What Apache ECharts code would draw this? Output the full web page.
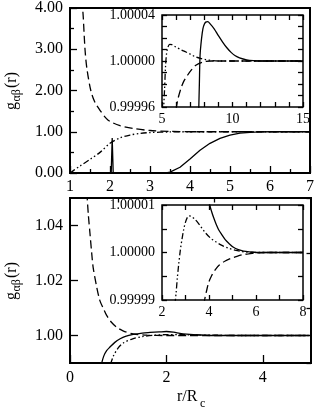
<!DOCTYPE html>
<html>
<head>
<meta charset="utf-8">
<script src="https://cdn.jsdelivr.net/npm/echarts@6/dist/echarts.min.js"></script>
<style>
html,body{margin:0;padding:0;background:#fff;}
#c{width:317px;height:411px;}
</style>
</head>
<body>
<div id="c"></div>
<script>
// ---------- DATA ----------
// Top main panel (x: r/Rc 1..7, y: g 0..4)
const topSolidX = [1.0, 2.03, 2.055, 2.08, 3.4, 3.5, 3.75, 4.0, 4.25, 4.5, 4.75, 5.0, 5.25, 5.5, 5.75, 6.0, 7.0];
const topSolidY = [0.0, 0.0, 0.85, 0.0, 0.0, 0.02, 0.14, 0.34, 0.55, 0.72, 0.84, 0.92, 0.965, 0.985, 0.995, 1.0, 1.0];
const topDashX = [1.30, 1.33, 1.375, 1.42, 1.52, 1.62, 1.75, 1.90, 2.00, 2.25, 2.58, 3.00, 3.50, 4.00, 7.00];
const topDashY = [4.2, 3.8, 3.0, 2.55, 2.0, 1.72, 1.52, 1.33, 1.25, 1.15, 1.08, 1.03, 1.01, 1.0, 1.0];
const topDotX = [1.0, 1.1, 1.25, 1.5, 1.75, 2.0, 2.25, 2.5, 2.75, 3.0, 3.5, 4.0, 7.0];
const topDotY = [0.0, 0.07, 0.17, 0.33, 0.5, 0.72, 0.85, 0.92, 0.96, 0.98, 0.995, 1.0, 1.0];

// Top inset (x: 5..15, y: 0.99996..1.00004)
const tinSolidX = [7.60, 7.65, 7.70, 7.80, 7.90, 8.00, 8.10, 8.25, 8.40, 8.70, 9.00, 9.30, 9.60, 9.90, 10.2, 10.5, 11.0, 11.5, 12.0, 15.0];
const tinSolidY = [0.999955, 0.99998, 1.000005, 1.000019, 1.000028, 1.000032, 1.0000338, 1.0000342, 1.0000325, 1.000028, 1.000022, 1.0000165, 1.0000115, 1.0000075, 1.0000045, 1.0000027, 1.000001, 1.0000003, 1.0, 1.0];
const tinDashX = [6.00, 6.05, 6.15, 6.34, 6.55, 6.81, 7.10, 7.40, 7.90, 8.50, 15.0];
const tinDashY = [0.999958, 0.999962, 0.999968, 0.999976, 0.9999825, 0.9999876, 0.9999925, 0.9999963, 0.9999991, 1.0, 1.0];
const tinDotX = [5.10, 5.18, 5.25, 5.32, 5.42, 5.55, 5.70, 6.00, 6.40, 6.70, 7.00, 7.40, 7.80, 8.10, 8.60, 9.00, 15.0];
const tinDotY = [0.999955, 0.999975, 0.999995, 1.000006, 1.000012, 1.0000145, 1.0000142, 1.000012, 1.0000095, 1.0000078, 1.000006, 1.0000035, 1.000002, 1.0000012, 1.0000003, 1.0, 1.0];

// Bottom main panel (x: 0..5, y: 0.99..1.05)
const botSolidX = [0.65, 0.70, 0.76, 0.83, 0.93, 1.04, 1.15, 1.31, 1.50, 1.66, 1.85, 2.00, 2.15, 2.28, 2.42, 2.56, 2.80, 3.00, 5.00];
const botSolidY = [0.9895, 0.9925, 0.9945, 0.9958, 0.9975, 0.9988, 0.9997, 1.0004, 1.0009, 1.0011, 1.0013, 1.00145, 1.0012, 1.0008, 1.0005, 1.0003, 1.0001, 1.0, 1.0];
const botDashX = [0.35, 0.38, 0.415, 0.45, 0.48, 0.55, 0.62, 0.70, 0.76, 0.85, 0.97, 1.10, 1.31, 1.60, 2.00, 5.00];
const botDashY = [1.052, 1.044, 1.037, 1.030, 1.0248, 1.018, 1.0127, 1.0095, 1.0073, 1.005, 1.003, 1.0017, 1.0006, 1.0001, 1.0, 1.0];
const botDotX = [0.84, 0.90, 1.00, 1.10, 1.30, 1.50, 1.75, 2.00, 2.30, 2.60, 3.00, 3.50, 5.00];
const botDotY = [0.9895, 0.9925, 0.9955, 0.9972, 0.9988, 0.9996, 1.0001, 1.0003, 1.0003, 1.0002, 1.0001, 1.0, 1.0];

// Bottom inset (x: 2..8, y: 0.99999..1.00001)
const binSolidX = [3.98, 4.03, 4.10, 4.20, 4.30, 4.41, 4.55, 4.69, 4.85, 5.04, 5.25, 5.47, 5.80, 6.00, 8.00];
const binSolidY = [1.000011, 1.00001, 1.0000088, 1.0000073, 1.000006, 1.0000048, 1.0000037, 1.0000027, 1.0000019, 1.0000011, 1.0000006, 1.0000003, 1.0000001, 1.0, 1.0];
const binDashX = [3.78, 3.82, 3.90, 3.98, 4.10, 4.27, 4.45, 4.69, 4.95, 5.19, 5.45, 5.68, 6.00, 6.40, 8.00];
const binDashY = [0.999989, 0.9999902, 0.999992, 0.9999936, 0.999995, 0.9999964, 0.9999974, 0.9999982, 0.9999988, 0.9999992, 0.99999955, 0.9999997, 0.9999999, 1.0, 1.0];
const binDotX = [2.55, 2.60, 2.65, 2.71, 2.78, 2.86, 2.93, 3.00, 3.07, 3.14, 3.25, 3.42, 3.60, 3.84, 4.05, 4.27, 4.55, 4.83, 5.10, 5.40, 5.80, 6.20, 8.00];
const binDotY = [0.999989, 0.9999915, 0.9999945, 0.9999975, 1.0000005, 1.0000031, 1.000005, 1.0000064, 1.0000073, 1.0000077, 1.0000076, 1.0000069, 1.0000058, 1.0000042, 1.0000031, 1.0000023, 1.0000015, 1.0000009, 1.0000005, 1.0000002, 1.00000005, 1.0, 1.0];

// Tick / label values
const topInsetXTicks = [5, 6, 7, 8, 9, 10, 11, 12, 13, 14, 15];
const topInsetXLabels = [5, 10, 15];
const topInsetYTicks = [-4, -3, -2, -1, 0, 1, 2, 3, 4]; // units of 1e-5 around 1
const topInsetYLabels = [-4, 0, 4];
const botMainXTicks = [0, 2, 4];
const botMainXMinor = [1, 3];
const botMainYTicks = [1.00, 1.02, 1.04];
const botMainYMinor = [0.99, 1.01, 1.03, 1.05];
const botInsetXTicks = [2, 3, 4, 5, 6, 7, 8];
const botInsetXLabels = [2, 4, 6, 8];
const botInsetYTicks = [-1, -0.5, 0, 0.5, 1];
const botInsetYLabels = [-1, 0, 1];

// ---------- CHART ----------
const FONT = 'Liberation Serif';
const zip = (xs, ys, f) => xs.map((x, i) => [x, f ? f(ys[i]) : ys[i]]);
const dev = v => (v - 1) * 1e5;

const DASH = [8, 4];
const DDOT = [6, 2.5, 1.5, 2.5, 1.5, 2.5];

function lbl(size, margin, extra) {
  return Object.assign({ show: true, color: '#000', fontFamily: FONT, fontSize: size, margin: margin }, extra || {});
}
function tick(len, extra) {
  return Object.assign({ show: true, inside: true, length: len, lineStyle: { color: '#000', width: 1.3 } }, extra || {});
}
const noLine = { show: false, onZero: false };
const noSplit = { show: false };

const xAxis = [
  { gridIndex: 0, type: 'value', min: 1, max: 7, interval: 1, axisLine: noLine, splitLine: noSplit,
    axisTick: tick(7), minorTick: { show: true, splitNumber: 2, length: 4, lineStyle: { color: '#000', width: 1.3 } },
    axisLabel: lbl(16, 6, { formatter: v => String(v) }) },
  { gridIndex: 1, type: 'value', min: 5, max: 15, axisLine: noLine, splitLine: noSplit, z: 6,
    axisTick: tick(5, { customValues: topInsetXTicks }),
    axisLabel: lbl(14, 5, { customValues: topInsetXLabels, formatter: v => String(v) }) },
  { gridIndex: 1, type: 'value', position: 'top', min: 5, max: 15, axisLine: noLine, splitLine: noSplit, z: 6,
    axisTick: tick(5, { customValues: topInsetXTicks }), axisLabel: { show: false } },
  { gridIndex: 2, type: 'value', min: 0, max: 5, axisLine: noLine, splitLine: noSplit,
    axisTick: tick(8, { customValues: botMainXTicks }),
    axisLabel: lbl(16, 7, { customValues: botMainXTicks, formatter: v => String(v) }) },
  { gridIndex: 2, type: 'value', min: 0, max: 5, axisLine: noLine, splitLine: noSplit,
    axisTick: tick(4.5, { customValues: botMainXMinor }), axisLabel: { show: false } },
  { gridIndex: 3, type: 'value', min: 2, max: 8, axisLine: noLine, splitLine: noSplit, z: 6,
    axisTick: tick(5, { customValues: botInsetXTicks }),
    axisLabel: lbl(14, 5, { customValues: botInsetXLabels, formatter: v => String(v) }) },
  { gridIndex: 3, type: 'value', position: 'top', min: 2, max: 8, axisLine: noLine, splitLine: noSplit, z: 6,
    axisTick: tick(5, { customValues: botInsetXTicks }), axisLabel: { show: false } }
];

const yAxis = [
  { gridIndex: 0, type: 'value', min: 0, max: 4, interval: 1, axisLine: noLine, splitLine: noSplit,
    axisTick: tick(7), minorTick: { show: true, splitNumber: 2, length: 4, lineStyle: { color: '#000', width: 1.3 } },
    axisLabel: lbl(16, 7, { formatter: v => v.toFixed(2) }) },
  { gridIndex: 1, type: 'value', min: -4, max: 4, axisLine: noLine, splitLine: noSplit, z: 6,
    axisTick: tick(5, { customValues: topInsetYTicks }),
    axisLabel: lbl(14, 7, { customValues: topInsetYLabels, formatter: v => (1 + v * 1e-5).toFixed(5) }) },
  { gridIndex: 1, type: 'value', position: 'right', min: -4, max: 4, axisLine: noLine, splitLine: noSplit, z: 6,
    axisTick: tick(5, { customValues: topInsetYTicks }), axisLabel: { show: false } },
  { gridIndex: 2, type: 'value', min: 0.99, max: 1.05, axisLine: noLine, splitLine: noSplit,
    axisTick: tick(8, { customValues: botMainYTicks }),
    axisLabel: lbl(16, 7, { customValues: botMainYTicks, formatter: v => v.toFixed(2) }) },
  { gridIndex: 2, type: 'value', min: 0.99, max: 1.05, axisLine: noLine, splitLine: noSplit,
    axisTick: tick(4.5, { customValues: botMainYMinor }), axisLabel: { show: false } },
  { gridIndex: 3, type: 'value', min: -1, max: 1, axisLine: noLine, splitLine: noSplit, z: 6,
    axisTick: tick(5, { customValues: botInsetYTicks }),
    axisLabel: lbl(14, 7, { customValues: botInsetYLabels, formatter: v => (1 + v * 1e-5).toFixed(5) }) },
  { gridIndex: 3, type: 'value', position: 'right', min: -1, max: 1, axisLine: noLine, splitLine: noSplit, z: 6,
    axisTick: tick(5, { customValues: botInsetYTicks }), axisLabel: { show: false } }
];

function line(xi, yi, data, type, z) {
  return {
    type: 'line', xAxisIndex: xi, yAxisIndex: yi, data: data,
    showSymbol: false, symbol: 'none', smooth: 0.3, clip: true, z: z || 2,
    lineStyle: { color: '#000', width: 1.3, type: type }, silent: true, animation: false
  };
}

const series = [
  line(0, 0, zip(topSolidX, topSolidY), 'solid'),
  line(0, 0, zip(topDashX, topDashY), DASH),
  line(0, 0, zip(topDotX, topDotY), DDOT),
  line(1, 1, zip(tinSolidX, tinSolidY, dev), 'solid', 7),
  line(1, 1, zip(tinDashX, tinDashY, dev), DASH, 7),
  line(1, 1, zip(tinDotX, tinDotY, dev), DDOT, 7),
  line(3, 3, zip(botSolidX, botSolidY), 'solid'),
  line(3, 3, zip(botDashX, botDashY), DASH),
  line(3, 3, zip(botDotX, botDotY), DDOT),
  line(5, 5, zip(binSolidX, binSolidY, dev), 'solid', 7),
  line(5, 5, zip(binDashX, binDashY, dev), DASH, 7),
  line(5, 5, zip(binDotX, binDotY, dev), DDOT, 7)
];
series[0].smooth = false;

function yTitle(x, y) {
  return {
    type: 'group', x: x, y: y, rotation: Math.PI / 2, silent: true,
    children: [
      { type: 'text', x: 0, y: 0, style: { text: 'g', font: '16px "Liberation Serif"', fill: '#000', textAlign: 'left', textVerticalAlign: 'middle' } },
      { type: 'text', x: 8.5, y: 5, style: { text: 'αβ', font: '12px "Liberation Serif"', fill: '#000', textAlign: 'left', textVerticalAlign: 'middle' } },
      { type: 'text', x: 22, y: 0, style: { text: '(r)', font: '16px "Liberation Serif"', fill: '#000', textAlign: 'left', textVerticalAlign: 'middle' } }
    ]
  };
}

const option = {
  animation: false,
  backgroundColor: '#fff',
  grid: [
    { left: 70, top: 8, width: 241, height: 165, show: true, borderColor: '#000', borderWidth: 2, backgroundColor: 'transparent', z: 0 },
    { left: 162, top: 15, width: 141, height: 92, show: true, borderColor: '#000', borderWidth: 1.5, backgroundColor: '#fff', z: 5 },
    { left: 70, top: 198, width: 241, height: 165, show: true, borderColor: '#000', borderWidth: 2, backgroundColor: 'transparent', z: 0 },
    { left: 162, top: 205, width: 141, height: 95, show: true, borderColor: '#000', borderWidth: 1.5, backgroundColor: '#fff', z: 5 }
  ],
  xAxis: xAxis,
  yAxis: yAxis,
  series: series,
  graphic: [
    yTitle(12, 110),
    yTitle(12, 300),
    { type: 'text', x: 177, y: 397, silent: true, style: { text: 'r/R', font: '16px "Liberation Serif"', fill: '#000', textAlign: 'left', textVerticalAlign: 'middle' } },
    { type: 'text', x: 200, y: 404, silent: true, style: { text: 'c', font: '12px "Liberation Serif"', fill: '#000', textAlign: 'left', textVerticalAlign: 'middle' } }
  ]
};

const chart = echarts.init(document.getElementById('c'), null, { renderer: 'canvas' });
chart.setOption(option);
</script>
</body>
</html>
